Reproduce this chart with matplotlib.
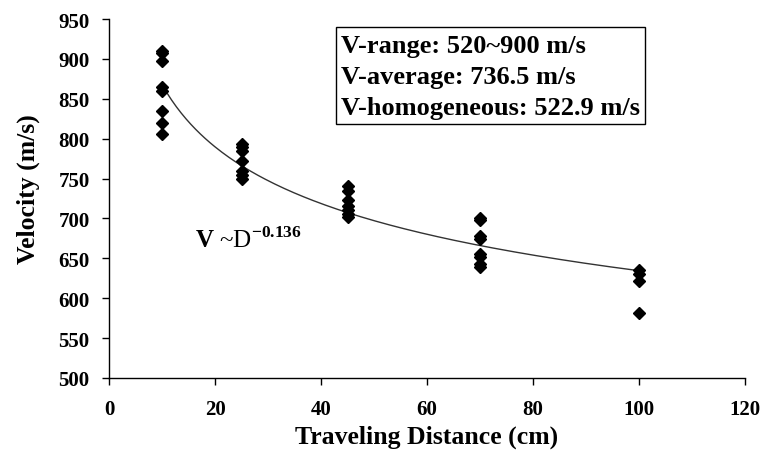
import matplotlib
matplotlib.use("Agg")
import matplotlib.pyplot as plt
import numpy as np
from matplotlib.patches import Rectangle

plt.rcParams["font.family"] = ["Liberation Serif", "DejaVu Serif"]
plt.rcParams["mathtext.fontset"] = "custom"
plt.rcParams["mathtext.rm"] = "Liberation Serif"
plt.rcParams["mathtext.bf"] = "Liberation Serif:bold"

# measured velocities per travelling distance
distance = [10] * 8 + [25] * 7 + [45] * 7 + [70] * 8 + [100] * 4
velocity = [
    910, 907, 897, 865, 860, 835, 820, 806,
    793, 789, 785, 772, 759, 754, 749,
    741, 734, 723, 716, 710, 706, 702,
    701, 698, 678, 674, 655, 652, 643, 639,
    635, 630, 621, 581,
]
exponent = -0.136
box_lines = ["V-range: 520~900 m/s", "V-average: 736.5 m/s", "V-homogeneous: 522.9 m/s"]

d = np.array(distance, float)
v = np.array(velocity, float)
coef = np.exp(np.mean(np.log(v) - exponent * np.log(d)))
dfit = np.linspace(10, 100, 200)
vfit = coef * dfit ** exponent

W, H = 764, 452
fig = plt.figure(figsize=(W / 100, H / 100), dpi=100)
ax = fig.add_axes([109 / W, 1 - 379 / H, 636 / W, 359 / H])

ax.plot(dfit, vfit, color="#333333", linewidth=1.0, zorder=2)
ax.plot(d, v, linestyle="none", marker="D", markersize=6, color="black", zorder=3)

ax.set_xlim(0, 120)
ax.set_ylim(500, 950)
ax.set_xticks(range(0, 121, 20))
ax.set_yticks(range(500, 951, 50))
ax.tick_params(direction="out", length=5, width=1, labelsize=15)
ax.tick_params(axis="x", pad=10)
ax.tick_params(axis="y", pad=9)
for lab in ax.get_xticklabels() + ax.get_yticklabels():
    lab.set_fontweight("bold")
ax.spines["top"].set_visible(False)
ax.spines["right"].set_visible(False)
for s in ("left", "bottom"):
    ax.spines[s].set_linewidth(1)

ax.set_xlabel("Traveling Distance (cm)", fontsize=18.5, fontweight="bold")
ax.set_ylabel("Velocity (m/s)", fontsize=18.5, fontweight="bold")
ax.xaxis.set_label_coords(0.5, -0.13)
ax.yaxis.set_label_coords(-0.108, 0.53)

# summary box
fig.patches.append(Rectangle((336 / W, 1 - 125 / H), 309 / W, 97 / H, transform=fig.transFigure,
                             facecolor="white", edgecolor="black", linewidth=1, zorder=5))
for i, line in enumerate(box_lines):
    fig.text(341 / W, 1 - (53 + 31 * i) / H, line, ha="left", va="baseline",
             fontsize=19, fontweight="bold", zorder=6)

ax.text(16.2, 664, r"$\mathbf{V}$ ~D$^{\mathbf{-0.136}}$", fontsize=18)

fig.savefig("out.png", dpi=100)
